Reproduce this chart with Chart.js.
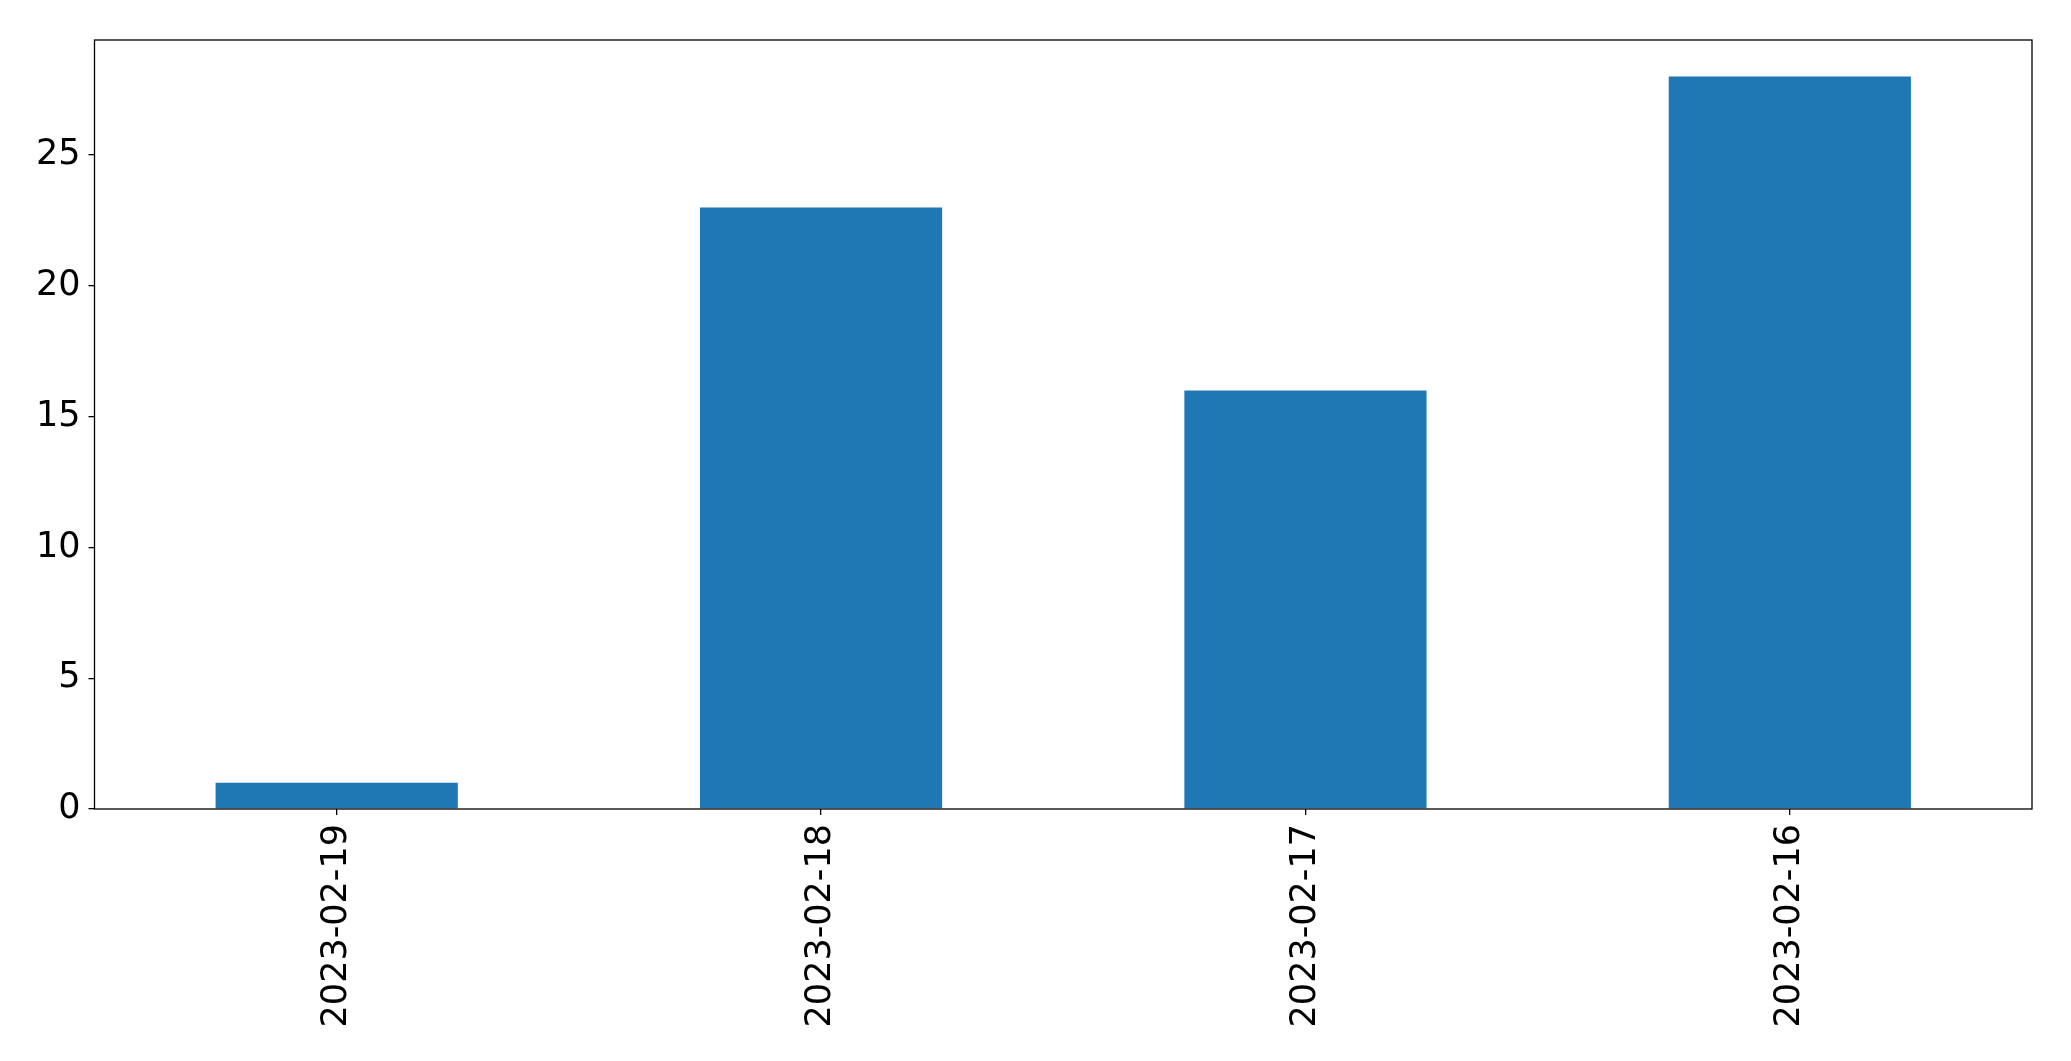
<!DOCTYPE html>
<html>
<head>
<meta charset="utf-8">
<script src="https://cdn.jsdelivr.net/npm/chart.js@4/dist/chart.umd.min.js"></script>
<style>
  html, body { margin: 0; padding: 0; background: #fff; }
  #wrap { width: 2071px; height: 1061px; }
</style>
</head>
<body>
<div id="wrap"><canvas id="barChart" width="2071" height="1061"></canvas></div>
<script>
// Datos
const fechas = ['2023-02-19', '2023-02-18', '2023-02-17', '2023-02-16'];
const valores = [1, 23, 16, 28];
const yTicks = [0, 5, 10, 15, 20, 25];

// Marco negro alrededor del área del gráfico
const marco = {
  id: 'marco',
  afterDraw(chart) {
    const { ctx, chartArea: a } = chart;
    ctx.save();
    ctx.strokeStyle = '#000';
    ctx.lineWidth = 1.3;
    ctx.strokeRect(a.left, a.top, a.right - a.left, a.bottom - a.top);
    ctx.restore();
  }
};

const fuente = { family: 'DejaVu Sans', size: 35 };

new Chart(document.getElementById('barChart').getContext('2d'), {
  type: 'bar',
  data: {
    labels: fechas,
    datasets: [{
      data: valores,
      backgroundColor: '#1f77b4',
      borderWidth: 0,
      barPercentage: 0.5,
      categoryPercentage: 1.0,
    }],
  },
  options: {
    responsive: false,
    animation: false,
    layout: { padding: { left: 0, right: 39, top: 40, bottom: 0 } },
    plugins: { legend: { display: false }, tooltip: { enabled: false } },
    scales: {
      x: {
        grid: { display: true, drawOnChartArea: false, offset: false, tickLength: 6, color: '#000', lineWidth: 1.3 },
        border: { display: false },
        ticks: { color: '#000', font: fuente, minRotation: 90, maxRotation: 90, padding: 9, autoSkip: false },
        afterFit(scale) { scale.height = 1061 - 809; },
      },
      y: {
        min: 0,
        max: 29.4,
        afterBuildTicks(scale) { scale.ticks = yTicks.map(v => ({ value: v })); },
        grid: { display: true, drawOnChartArea: false, tickLength: 6, color: '#000', lineWidth: 1.3 },
        border: { display: false },
        ticks: { color: '#000', font: fuente, padding: 8 },
        afterFit(scale) { scale.width = 94.5; },
      },
    },
  },
  plugins: [marco],
});
</script>
</body>
</html>
